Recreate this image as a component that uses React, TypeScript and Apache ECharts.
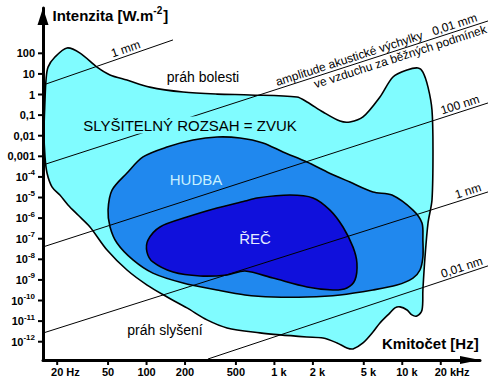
import React, { useEffect, useRef } from 'react';
import * as echarts from 'echarts';

// Axis extents: frequency in Hz (log axis), intensity level in dB re 1e-12 W/m2 (10 dB = one decade of W/m2)
const FREQ_MIN = 15.49;
const FREQ_MAX = 40550;
const LEVEL_MIN = -8.88;
const LEVEL_MAX = 162.0;

// X ticks
const xTickFreqs = [20, 50, 100, 200, 500, 1000, 2000, 5000, 10000, 20000];
const xTickNumbers = ['20', '50', '100', '200', '500', '1', '2', '5', '10', '20'];
const xTickUnits = [' Hz', '', '', '', '', ' k', ' k', ' k', ' k', ' kHz'];

// Y ticks (each decade of intensity)
const yTickLevels = [140, 130, 120, 110, 100, 90, 80, 70, 60, 50, 40, 30, 20, 10, 0];
const yTickBases = ['100', '10', '1', '0,1', '0,01', '0,001', '10', '10', '10', '10', '10', '10', '10', '10', '10'];
const yTickExponents = ['', '', '', '', '', '', '-4', '-5', '-6', '-7', '-8', '-9', '-10', '-11', '-12'];

// Regions [Hz, dB]
const hearingRange: number[][] = [
  [23.9, 142.6], [30.2, 140.1], [41.0, 133.3], [51.8, 129.5], [70.3, 127.0], [106, 123.6], [193, 121.2],
  [356, 120.2], [644, 119.8], [1500, 118.8], [1800, 116.4], [2400, 111.5], [3260, 107.1], [3900, 106.7],
  [4930, 109.1], [6690, 118.8], [8460, 128.5], [10900, 131.9], [13270, 132.9], [14500, 130.9], [15900, 123.6],
  [17080, 112.5], [17390, 93.1], [17080, 68.8], [15900, 57.6], [15060, 41.1], [14500, 25.1], [14270, 15.4],
  [13000, 12.5], [11900, 13.0], [10900, 15.4], [9600, 16.9], [8770, 16.4], [8010, 14.0], [6690, 9.1],
  [5900, 4.7], [4930, -0.6], [4120, -3.5], [3690, -3.0], [3090, -0.6], [2400, 1.8], [1800, 2.3], [1110, 3.3],
  [771, 4.3], [426, 6.7], [297, 10.6], [207, 16.4], [145, 21.7], [101, 27.5], [70.3, 34.8], [49.1, 44.5],
  [36.1, 55.7], [29.1, 61.5], [24.3, 66.4], [21.0, 71.2], [18.2, 75.2], [16.65, 81.9], [16.06, 89.7],
  [15.77, 101.3], [16.06, 117.3], [16.35, 127.0], [16.96, 133.3], [19.2, 138.2],
];
const musicRange: number[][] = [
  [53.7, 73.6], [70.3, 81.9], [93.8, 89.7], [144.5, 94.5], [231, 97.9], [356, 99.4], [538, 98.9], [814, 96.5],
  [1167, 92.1], [1800, 87.2], [2580, 82.4], [3900, 77.5], [5900, 72.7], [8310, 71.2], [12130, 63.9],
  [14270, 57.6], [14500, 49.3], [14500, 41.1], [13760, 34.8], [12130, 30.9], [9090, 27.5], [5900, 25.1],
  [3260, 22.7], [1800, 21.7], [975, 21.7], [589, 22.7], [356, 25.1], [193, 28.5], [112, 33.3], [78.3, 39.7],
  [58.7, 47.9], [51.8, 55.7], [50, 63.9],
];
const speechRange: number[][] = [
  [100.8, 43.5], [102.6, 49.3], [127.4, 55.7], [207, 60.5], [356, 64.9], [589, 68.3], [730, 69.8],
  [1324, 71.2], [2003, 69.8], [2720, 63.9], [3440, 55.7], [4120, 45.9], [4420, 38.2], [4270, 30.0],
  [3690, 26.1], [2870, 25.1], [1800, 26.6], [975, 30.9], [589, 34.3], [426, 32.4], [262, 31.9], [161, 33.8],
  [112, 38.7],
];

// Lines of constant acoustic amplitude: start and end [Hz, dB]
const amplitudeNames = ['1 mm', '0,01 mm', '100 nm', '1 nm', '0,01 nm'];
const amplitudeFrom: number[][] = [[15.49, 124.6], [15.49, 85.8], [15.49, 46.0], [15.49, 4.2], [302, -8.4]];
const amplitudeTo: number[][] = [[161, 146.5], [46830, 155.7], [46830, 115.9], [46830, 72.7], [46830, 36.8]];

// Label layout along the lines
const amplitudeLabels = [
  { line: 0, text: amplitudeNames[0], t: 0.654, side: 1 },
  { line: 1, text: 'amplitude akustické výchylky', t: 0.693, side: 1 },
  { line: 1, text: amplitudeNames[1], t: 0.93, side: 1 },
  { line: 1, text: 've vzduchu za běžných podmínek', t: 0.798, side: -1 },
  { line: 2, text: amplitudeNames[2], t: 0.942, side: 1 },
  { line: 3, text: amplitudeNames[3], t: 0.96, side: 1 },
  { line: 4, text: amplitudeNames[4], t: 0.914, side: 1 },
];

const FAMILY = '"Liberation Sans", Arial, sans-serif';
const TICK_FONT = `bold 11px ${FAMILY}`;
const EXP_FONT = `bold 8px ${FAMILY}`;
const TITLE_FONT = `bold 15px ${FAMILY}`;
const TITLE_EXP_FONT = `bold 10px ${FAMILY}`;
const LINE_FONT = `12px ${FAMILY}`;

let measureCtx: CanvasRenderingContext2D | null = null;
function textWidth(s: string, font: string): number {
  if (!measureCtx) measureCtx = document.createElement('canvas').getContext('2d');
  if (!measureCtx) return s.length * 6;
  measureCtx.font = font;
  return measureCtx.measureText(s).width;
}

function regionSeries(points: number[][], fill: string, z: number) {
  return {
    type: 'custom',
    z,
    silent: true,
    data: [points[0]],
    renderItem: (_params: any, api: any) => ({
      type: 'polygon',
      shape: { points: points.map((p) => api.coord(p)), smooth: 0.3 },
      style: { fill, stroke: '#000', lineWidth: 1.6 },
    }),
  };
}

function buildOption() {
  const t1 = 'Intenzita [W.m';
  const t1w = textWidth(t1, TITLE_FONT);
  const t2w = textWidth('-2', TITLE_EXP_FONT);
  return {
    animation: false,
    grid: { left: 43, right: 14, top: 8, bottom: 27, containLabel: false, outerBoundsMode: 'none' },
    xAxis: {
      type: 'log',
      min: FREQ_MIN,
      max: FREQ_MAX,
      z: 10,
      axisLine: {
        show: true,
        onZero: false,
        symbol: ['none', 'triangle'],
        symbolSize: [8, 20],
        symbolOffset: [0, -10],
        lineStyle: { color: '#000', width: 3 },
      },
      axisTick: { show: false },
      axisLabel: { show: false },
      splitLine: { show: false },
    },
    yAxis: {
      type: 'value',
      min: LEVEL_MIN,
      max: LEVEL_MAX,
      z: 10,
      axisLine: {
        show: true,
        onZero: false,
        symbol: ['none', 'triangle'],
        symbolSize: [11, 17],
        symbolOffset: [0, -8.5],
        lineStyle: { color: '#000', width: 3 },
      },
      axisTick: { show: false },
      axisLabel: { show: false },
      splitLine: { show: false },
    },
    graphic: [
      {
        type: 'group',
        z: 100,
        children: [
          { type: 'text', x: 52.5, y: 15, style: { text: t1, font: TITLE_FONT, fill: '#000', align: 'left', verticalAlign: 'middle' } },
          { type: 'text', x: 52.5 + t1w, y: 10, style: { text: '-2', font: TITLE_EXP_FONT, fill: '#000', align: 'left', verticalAlign: 'middle' } },
          { type: 'text', x: 52.5 + t1w + t2w + 1, y: 15, style: { text: ']', font: TITLE_FONT, fill: '#000', align: 'left', verticalAlign: 'middle' } },
        ],
      },
      { type: 'text', z: 100, x: 382, y: 343, style: { text: 'Kmitočet [Hz]', font: TITLE_FONT, fill: '#000', align: 'left', verticalAlign: 'middle' } },
      { type: 'text', z: 100, x: 203, y: 77, style: { text: 'práh bolesti', font: `14px ${FAMILY}`, fill: '#000', align: 'center', verticalAlign: 'middle' } },
      {
        type: 'text', z: 100, x: 190, y: 125,
        style: { text: 'SLYŠITELNÝ ROZSAH = ZVUK', font: `15px ${FAMILY}`, fill: '#000', align: 'center', verticalAlign: 'middle', backgroundColor: '#80FCFF', padding: [1, 2] },
      },
      { type: 'text', z: 100, x: 196, y: 179, style: { text: 'HUDBA', font: `15px ${FAMILY}`, fill: '#C8F0FF', align: 'center', verticalAlign: 'middle' } },
      { type: 'text', z: 100, x: 255, y: 238, style: { text: 'ŘEČ', font: `15px ${FAMILY}`, fill: '#E6ECFF', align: 'center', verticalAlign: 'middle' } },
      { type: 'text', z: 100, x: 165, y: 330, style: { text: 'práh slyšení', font: `14px ${FAMILY}`, fill: '#000', align: 'center', verticalAlign: 'middle' } },
    ],
    series: [
      regionSeries(hearingRange, '#80FCFF', 2),
      regionSeries(musicRange, '#2088EE', 3),
      regionSeries(speechRange, '#1010DC', 4),
      {
        type: 'custom',
        z: 5,
        silent: true,
        data: amplitudeFrom,
        renderItem: (params: any, api: any) => {
          const i = params.dataIndex;
          const p0 = api.coord(amplitudeFrom[i]);
          const p1 = api.coord(amplitudeTo[i]);
          return {
            type: 'line',
            shape: { x1: p0[0], y1: p0[1], x2: p1[0], y2: p1[1] },
            style: { stroke: '#000', lineWidth: 1 },
          };
        },
      },
      {
        type: 'custom',
        z: 6,
        silent: true,
        data: amplitudeLabels.map((l) => amplitudeFrom[l.line]),
        renderItem: (params: any, api: any) => {
          const lab = amplitudeLabels[params.dataIndex];
          const p0 = api.coord(amplitudeFrom[lab.line]);
          const p1 = api.coord(amplitudeTo[lab.line]);
          const a = Math.atan2(p1[1] - p0[1], p1[0] - p0[0]);
          const px = p0[0] + lab.t * (p1[0] - p0[0]);
          const py = p0[1] + lab.t * (p1[1] - p0[1]);
          const ux = Math.sin(a);
          const uy = -Math.cos(a);
          const d = lab.side * 7;
          return {
            type: 'text',
            x: px + ux * d,
            y: py + uy * d,
            rotation: -a,
            style: { text: lab.text, font: LINE_FONT, fill: '#000', align: 'center', verticalAlign: 'middle' },
          };
        },
      },
      {
        type: 'custom',
        z: 7,
        silent: true,
        data: yTickLevels.map((l) => [FREQ_MIN, l]),
        renderItem: (params: any, api: any) => {
          const i = params.dataIndex;
          const p = api.coord([FREQ_MIN, yTickLevels[i]]);
          const x = p[0];
          const y = p[1];
          const right = x - 8;
          const children: any[] = [
            { type: 'line', shape: { x1: x - 5, y1: y, x2: x, y2: y }, style: { stroke: '#000', lineWidth: 2 } },
          ];
          const exp = yTickExponents[i];
          if (exp) {
            const we = textWidth(exp, EXP_FONT);
            children.push({ type: 'text', x: right - we, y, style: { text: yTickBases[i], font: TICK_FONT, fill: '#000', align: 'right', verticalAlign: 'middle' } });
            children.push({ type: 'text', x: right - we, y: y - 4, style: { text: exp, font: EXP_FONT, fill: '#000', align: 'left', verticalAlign: 'middle' } });
          } else {
            children.push({ type: 'text', x: right, y, style: { text: yTickBases[i], font: TICK_FONT, fill: '#000', align: 'right', verticalAlign: 'middle' } });
          }
          return { type: 'group', children };
        },
      },
      {
        type: 'custom',
        z: 7,
        silent: true,
        data: xTickFreqs.map((f) => [f, LEVEL_MIN]),
        renderItem: (params: any, api: any) => {
          const i = params.dataIndex;
          const p = api.coord([xTickFreqs[i], LEVEL_MIN]);
          const x = p[0];
          const y = p[1];
          const wn = textWidth(xTickNumbers[i], TICK_FONT);
          return {
            type: 'group',
            children: [
              { type: 'line', shape: { x1: x, y1: y, x2: x, y2: y + 5 }, style: { stroke: '#000', lineWidth: 2 } },
              {
                type: 'text', x: x - wn / 2, y: y + 12,
                style: { text: xTickNumbers[i] + xTickUnits[i], font: TICK_FONT, fill: '#000', align: 'left', verticalAlign: 'middle' },
              },
            ],
          };
        },
      },
    ],
  };
}

export default function App() {
  const ref = useRef<HTMLDivElement>(null);
  useEffect(() => {
    if (!ref.current) return;
    const chart = echarts.init(ref.current, null, { renderer: 'svg' });
    chart.setOption(buildOption() as any);
    return () => chart.dispose();
  }, []);
  return <div ref={ref} style={{ position: 'absolute', left: 0, top: 0, width: 494, height: 387, background: '#fff' }} />;
}
